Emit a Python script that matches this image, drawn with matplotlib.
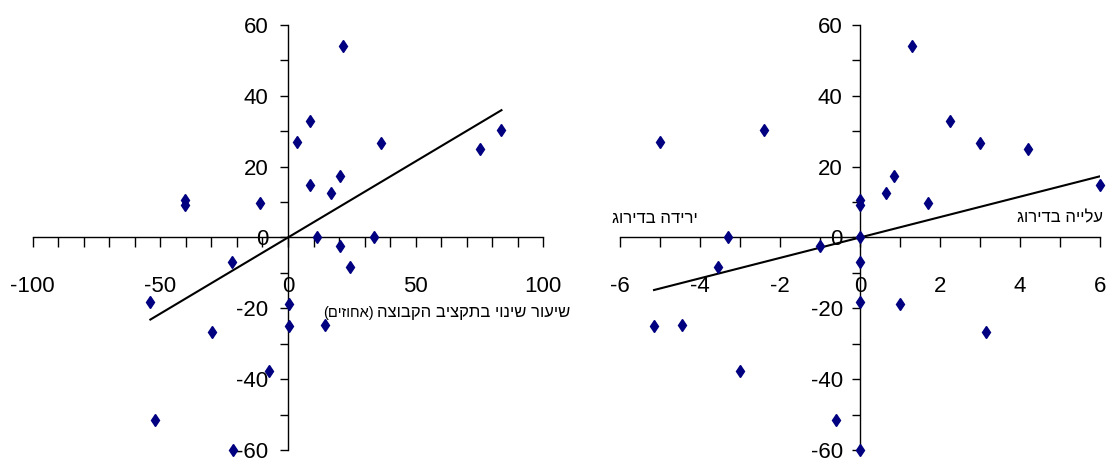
import matplotlib
matplotlib.use('Agg')
import matplotlib.pyplot as plt
from matplotlib.ticker import MultipleLocator, FuncFormatter

plt.rcParams['font.family'] = ['Liberation Sans', 'DejaVu Sans']

# Données (même axe Y pour les deux panneaux)
y_values = [27.0, 26.8, 10.5, 9.3, 9.6, -7.0, -18.2, -26.7, -18.7, -25.0,
            -24.8, -37.6, -51.4, -60.0, 54.0, 32.8, 24.9, 30.3, 14.7, 17.4,
            12.6, 0.0, 0.2, -2.3, -8.4]
budget_change = [3.7, 36.6, -40.5, -40.5, -11.0, -22.0, -53.9, -29.8, 0.3, 0.3,
                 14.5, -7.4, -51.9, -21.5, 21.4, 8.6, 75.2, 83.6, 8.6, 20.4,
                 17.0, 11.5, 33.7, 20.4, 24.3]
rank_change = [-5.0, 3.0, 0.0, 0.0, 1.7, 0.0, 0.0, 3.15, 1.0, -5.15,
               -4.45, -3.0, -0.6, 0.0, 1.3, 2.25, 4.2, -2.4, 6.0, 0.85,
               0.65, 0.0, -3.3, -1.0, -3.55]

# Pentes des droites de tendance (passant par l'origine)
slope_budget = 0.43
slope_rank = 2.88

budget_label = 'שיעור שינוי בתקציב הקבוצה'
budget_unit = '(אחוזים)'
rank_down = 'ירידה בדירוג'
rank_up = 'עלייה בדירוג'


def visual(text):
    # matplotlib n'a pas de bidi : inverser l'ordre des caractères hébreux
    swap = {'(': ')', ')': '('}
    return ''.join(swap.get(c, c) for c in reversed(text))


def style_axes(ax, xmax, xmajor, xminor, ypad):
    ax.set_xlim(-xmax, xmax)
    ax.set_ylim(-60, 60)
    ax.spines['left'].set_position(('data', 0))
    ax.spines['bottom'].set_position(('data', 0))
    ax.spines['right'].set_visible(False)
    ax.spines['top'].set_visible(False)
    for s in ['left', 'bottom']:
        ax.spines[s].set_linewidth(1.0)
        ax.spines[s].set_color('black')
    ax.xaxis.set_major_locator(MultipleLocator(xmajor))
    ax.xaxis.set_minor_locator(MultipleLocator(xminor))
    ax.yaxis.set_major_locator(MultipleLocator(20))
    ax.yaxis.set_minor_locator(MultipleLocator(10))
    fmt = FuncFormatter(lambda v, p: f'{v:g}')
    ax.xaxis.set_major_formatter(fmt)
    ax.yaxis.set_major_formatter(fmt)
    ax.tick_params(axis='x', which='both', direction='out', length=7, width=1)
    ax.tick_params(axis='x', which='major', pad=21, labelsize=16)
    ax.tick_params(axis='y', which='both', direction='out', length=6, width=1)
    ax.tick_params(axis='y', which='major', pad=ypad, labelsize=16)
    ax.patch.set_visible(False)


fig = plt.figure(figsize=(11.18, 4.61), dpi=100)
ax1 = fig.add_axes([0.0292, 0.0239, 0.4568, 0.9219])
ax2 = fig.add_axes([0.5546, 0.0239, 0.4293, 0.9219])

# Panneau gauche : variation du budget
style_axes(ax1, 100, 50, 10, 8)
ax1.plot(budget_change, y_values, linestyle='None', marker='d', markersize=6,
         color='#000080', clip_on=False, zorder=3)
x0, x1 = min(budget_change), max(budget_change)
ax1.plot([x0, x1], [slope_budget * x0, slope_budget * x1], color='black', lw=1.5)
t = ax1.text(110.7, -21.2, visual(budget_label), ha='right', va='center', fontsize=12)
ax1.annotate(visual(budget_unit), xy=(0, 0.45), xycoords=t, xytext=(-3, 0),
             textcoords='offset points', ha='right', va='center', fontsize=10.5)

# Panneau droit : variation du classement
style_axes(ax2, 6, 2, 1, 6.5)
ax2.plot(rank_change, y_values, linestyle='None', marker='d', markersize=6,
         color='#000080', clip_on=False, zorder=3)
x0, x1 = min(rank_change), max(rank_change)
ax2.plot([x0, x1], [slope_rank * x0, slope_rank * x1], color='black', lw=1.5)
ax2.text(-6.2, 5.5, visual(rank_down), ha='left', va='center', fontsize=12)
ax2.text(6.08, 5.5, visual(rank_up), ha='right', va='center', fontsize=12)

plt.savefig('out.png', dpi=100)
plt.close()
